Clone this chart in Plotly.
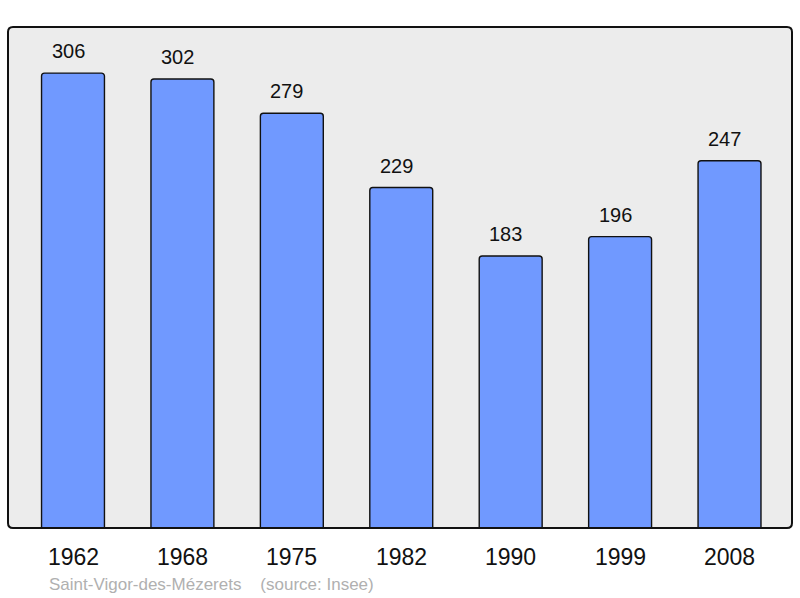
import plotly.graph_objects as go

years = ["1962", "1968", "1975", "1982", "1990", "1999", "2008"]
population = [306, 302, 279, 229, 183, 196, 247]
footer_left = "Saint-Vigor-des-Mézerets"
footer_right = "(source: Insee)"

W, H = 800, 598
ml, mr, mt, mb = 8, 8, 27, 70
pw, ph = W - ml - mr, H - mt - mb

xs = list(range(len(years)))

fig = go.Figure()
fig.add_trace(go.Bar(
    x=xs, y=population, width=0.575,
    marker=dict(color="#7099ff", line=dict(color="#111111", width=1.4), cornerradius=3),
    hoverinfo="skip",
))

ann = []
for i, v in enumerate(population):
    ann.append(dict(x=i, y=v, xref="x", yref="y", text=str(v), showarrow=False,
                    yanchor="bottom", yshift=9, xshift=-5, font=dict(size=20, color="#111111")))
for i, yv in enumerate(years):
    ann.append(dict(x=i, y=0, xref="x", yref="y", text=yv, showarrow=False,
                    yanchor="top", yshift=-14, font=dict(size=23, color="#111111")))
ann.append(dict(x=(47 - ml) / pw, y=-(584 - (mt + ph)) / ph, xref="paper", yref="paper",
                text=footer_left + "&nbsp;&nbsp;&nbsp;&nbsp;" + footer_right, showarrow=False,
                xanchor="left", yanchor="middle", font=dict(size=17, color="#b0b0b0")))

r = 5
rx, ry = r / pw, r / ph
path = (f"M {rx},0 L {1-rx},0 Q 1,0 1,{ry} L 1,{1-ry} Q 1,1 {1-rx},1 "
        f"L {rx},1 Q 0,1 0,{1-ry} L 0,{ry} Q 0,0 {rx},0 Z")

fig.update_layout(
    width=W, height=H,
    margin=dict(l=ml, r=mr, t=mt, b=mb, pad=0),
    paper_bgcolor="white", plot_bgcolor="rgba(0,0,0,0)",
    font=dict(family="Liberation Sans, Arial, sans-serif"),
    showlegend=False,
    xaxis=dict(range=[-0.594, 6.571], showgrid=False, zeroline=False, showticklabels=False,
               fixedrange=True),
    yaxis=dict(range=[0, 337], showgrid=False, zeroline=False, showticklabels=False,
               fixedrange=True),
    annotations=ann,
    shapes=[
        dict(type="path", path=path, xref="paper", yref="paper", layer="below",
             fillcolor="#ececec", line=dict(width=0)),
        dict(type="path", path=path, xref="paper", yref="paper", layer="above",
             line=dict(color="#111111", width=2)),
    ],
)

fig.write_html("out.html", config={"displayModeBar": False},
               post_script="document.body.style.margin='0';document.body.style.overflow='hidden';")
